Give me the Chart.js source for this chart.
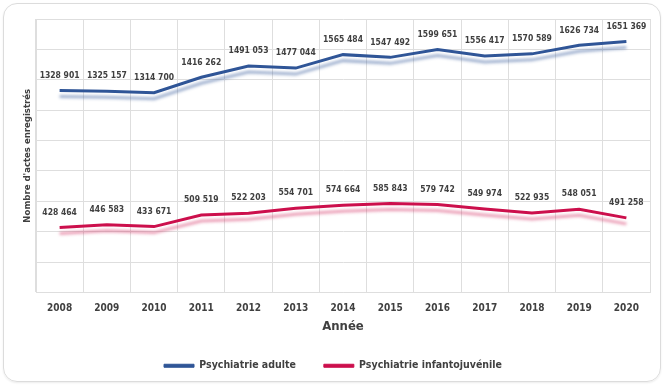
<!DOCTYPE html>
<html><head><meta charset="utf-8">
<script src="https://cdn.jsdelivr.net/npm/chart.js@4.4.1/dist/chart.umd.min.js"></script>
<style>
html,body{margin:0;padding:0;background:#fff;}
#card{position:absolute;left:3px;top:3px;width:656px;height:377px;border:1px solid #dcdcdc;border-radius:14px;box-shadow:0 1px 2px rgba(0,0,0,0.08);}
#wrap{position:absolute;left:0;top:0;width:666px;height:387px;}
</style></head>
<body>
<div id="card"></div>
<div id="wrap"><canvas id="c" width="666" height="387"></canvas></div>
<script>
const categories = ['2008','2009','2010','2011','2012','2013','2014','2015','2016','2017','2018','2019','2020'];
const adulte = [1328901,1325157,1314700,1416262,1491053,1477044,1565484,1547492,1599651,1556417,1570589,1626734,1651369];
const infanto = [428464,446583,433671,509519,522203,554701,574664,585843,579742,549974,522935,548051,491258];
const seriesNames = ['Psychiatrie adulte','Psychiatrie infantojuvénile'];
const yTitle = "Nombre d'actes enregistrés";
const xTitle = 'Année';

const FONT = "'Liberation Sans Narrow','DejaVu Sans Condensed','Liberation Sans',sans-serif";
const TXT = '#404040';
const BLUE = '#2f5597';
const RED = '#cc0f4c';
const SHADOWS = ['rgba(47,85,151,0.45)','rgba(204,15,76,0.40)'];

function fmt(v){ const s = String(v); return s.length > 3 ? s.slice(0, s.length-3) + ' ' + s.slice(-3) : s; }

const shadowPlugin = {
  id:'shadow',
  beforeDatasetDraw(chart, args){
    const ctx = chart.ctx; ctx.save();
    ctx.shadowColor = SHADOWS[args.index];
    ctx.shadowBlur = 3; ctx.shadowOffsetX = 0; ctx.shadowOffsetY = 6;
  },
  afterDatasetDraw(chart){ chart.ctx.restore(); }
};
const labelPlugin = {
  id:'vlabels',
  afterDatasetsDraw(chart){
    const ctx = chart.ctx; ctx.save();
    ctx.font = "bold 8.5px " + FONT; ctx.fillStyle = TXT;
    ctx.textAlign='center'; ctx.textBaseline='middle';
    chart.data.datasets.forEach((ds,i)=>{
      chart.getDatasetMeta(i).data.forEach((pt,j)=>{
        ctx.fillText(fmt(ds.data[j]), pt.x, pt.y-15);
      });
    });
    ctx.restore();
  }
};
const legendShift = {
  id:'legendShift',
  afterLayout(chart){
    const lg = chart.legend; if(!lg) return;
    lg.top -= 6; lg.bottom -= 6; lg.left += 8; lg.right += 8;
  }
};

new Chart(document.getElementById('c'), {
  type:'line',
  data:{ labels:categories, datasets:[
    {label:seriesNames[0], data:adulte, borderColor:BLUE, backgroundColor:BLUE, borderWidth:3, pointRadius:0, tension:0, fill:false},
    {label:seriesNames[1], data:infanto, borderColor:RED, backgroundColor:RED, borderWidth:3, pointRadius:0, tension:0, fill:false}
  ]},
  plugins:[shadowPlugin,labelPlugin,legendShift],
  options:{
    responsive:false, animation:false, devicePixelRatio:1,
    layout:{padding:{left:0,right:16,top:19,bottom:0}},
    plugins:{
      tooltip:{enabled:false},
      legend:{position:'bottom',
        labels:{boxWidth:30,boxHeight:3,padding:28,color:TXT,font:{family:FONT,size:10.5,weight:'bold'},
          generateLabels(chart){
            return chart.data.datasets.map((ds,i)=>({text:ds.label,fillStyle:ds.borderColor,strokeStyle:ds.borderColor,lineWidth:1,datasetIndex:i,fontColor:TXT}));
          }}
      }
    },
    scales:{
      x:{offset:true,
        grid:{offset:true,color:'#dedede',drawTicks:false},
        border:{color:'#dedede'},
        ticks:{color:TXT,padding:10,font:{family:FONT,size:10,weight:'bold'}},
        title:{display:true,text:xTitle,color:TXT,padding:{top:2,bottom:4},font:{family:FONT,size:13,weight:'bold'}},
        afterFit(s){ s.height = 46; }
      },
      y:{min:0,max:1800000,
        grid:{color:'#dedede',drawTicks:false},
        border:{color:'#dedede'},
        ticks:{display:false,stepSize:200000},
        title:{display:true,text:yTitle,color:TXT,padding:{top:22,bottom:0},font:{family:FONT,size:9.5,weight:'bold'}},
        afterFit(s){ s.width = 36; }
      }
    }
  }
});
</script>
</body></html>
